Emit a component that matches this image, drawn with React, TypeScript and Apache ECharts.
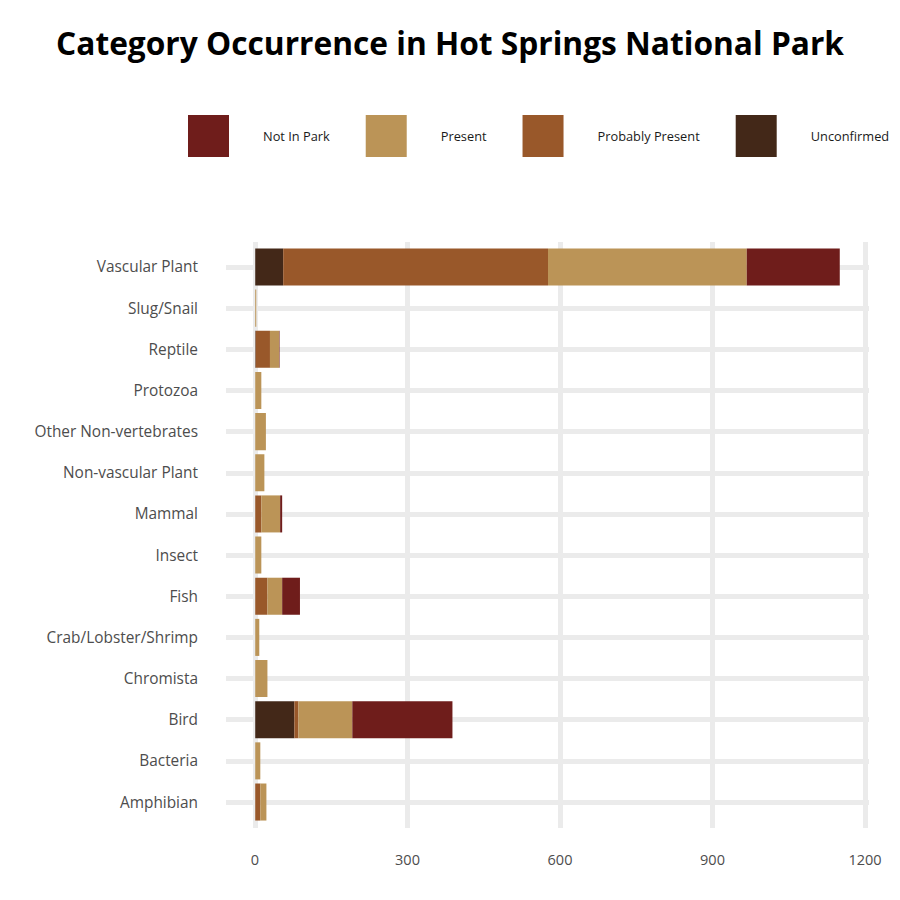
import React, { useEffect, useRef } from "react";
import * as echarts from "echarts";

const categories = [
  "Amphibian",
  "Bacteria",
  "Bird",
  "Chromista",
  "Crab/Lobster/Shrimp",
  "Fish",
  "Insect",
  "Mammal",
  "Non-vascular Plant",
  "Other Non-vertebrates",
  "Protozoa",
  "Reptile",
  "Slug/Snail",
  "Vascular Plant",
];

const unconfirmed = [0, 0, 77, 0, 0, 0, 0, 0, 0, 0, 0, 1, 0, 55];
const probablyPresent = [10, 0, 8, 0, 0, 24, 0, 12, 0, 0, 0, 28, 0, 521];
const present = [12, 10, 106, 24, 8, 29, 12, 37, 18, 21, 12, 18, 2, 391];
const notInPark = [0, 0, 197, 0, 0, 35, 0, 4, 0, 0, 0, 1, 0, 183];

const xTicks = [0, 300, 600, 900, 1200];
const legendOrder = ["Not In Park", "Present", "Probably Present", "Unconfirmed"];

const COLORS: Record<string, string> = {
  "Unconfirmed": "#432818",
  "Probably Present": "#99582a",
  "Present": "#bb9457",
  "Not In Park": "#6f1d1b",
};

const FONT = "'Open Sans', 'Noto Sans', sans-serif";

export default function App() {
  const ref = useRef<HTMLDivElement>(null);

  useEffect(() => {
    if (!ref.current) return;
    const chart = echarts.init(ref.current, undefined, { renderer: "svg" });

    const stackSeries = [
      ["Unconfirmed", unconfirmed],
      ["Probably Present", probablyPresent],
      ["Present", present],
      ["Not In Park", notInPark],
    ].map(([name, data]) => ({
      name: name as string,
      type: "bar",
      stack: "total",
      xAxisIndex: 0,
      yAxisIndex: 0,
      data: data as number[],
      barCategoryGap: "10%",
      itemStyle: { color: COLORS[name as string] },
      z: 3,
    }));

    const option: any = {
      animation: false,
      backgroundColor: "#ffffff",
      title: {
        text: "Category Occurrence in Hot Springs National Park",
        left: "center",
        top: 21,
        textStyle: {
          fontFamily: FONT,
          fontWeight: "bold",
          fontSize: 31.7,
          color: "#000000",
        },
      },
      legend: {
        data: legendOrder,
        left: 183,
        top: 110,
        itemWidth: 41,
        itemHeight: 42,
        itemGap: 36,
        icon: "rect",
        textStyle: {
          fontFamily: FONT,
          fontSize: 12.8,
          color: "#1a1a1a",
          padding: [0, 0, 0, 29],
        },
      },
      grid: [
        { left: 226, right: 31, top: 246.4, bottom: 77.4, containLabel: false },
        { left: 255, width: 610, top: 242, bottom: 72, containLabel: false },
      ],
      xAxis: [
        {
          type: "value",
          gridIndex: 0,
          min: -57.5,
          max: 1207.5,
          axisLabel: { show: false },
          axisLine: { show: false },
          axisTick: { show: false },
          splitLine: { show: false },
        },
        {
          type: "value",
          gridIndex: 1,
          min: xTicks[0],
          max: xTicks[xTicks.length - 1],
          interval: xTicks[1] - xTicks[0],
          axisLine: { show: false },
          axisTick: { show: false },
          axisLabel: {
            margin: 24,
            fontFamily: FONT,
            fontSize: 14.5,
            color: "#4d4d4d",
            formatter: (v: number) => String(v),
          },
          splitLine: { show: true, lineStyle: { color: "#ebebeb", width: 5 } },
        },
      ],
      yAxis: [
        {
          type: "category",
          gridIndex: 0,
          data: categories,
          axisLine: { show: false },
          axisTick: { show: false },
          splitLine: { show: false },
          axisLabel: {
            margin: 28,
            fontFamily: FONT,
            fontSize: 15.4,
            color: "#4d4d4d",
          },
        },
        {
          type: "value",
          gridIndex: 1,
          show: false,
          min: 0,
          max: 1,
        },
      ],
      series: [
        {
          type: "scatter",
          xAxisIndex: 0,
          yAxisIndex: 0,
          data: [],
          silent: true,
          z: 1,
          markLine: {
            silent: true,
            z: 1,
            symbol: "none",
            label: { show: false },
            lineStyle: { color: "#ebebeb", width: 5, type: "solid" },
            data: categories.map((c) => ({ yAxis: c })),
          },
        },
        ...stackSeries,
      ],
    };

    chart.setOption(option);
    return () => chart.dispose();
  }, []);

  return (
    <div
      ref={ref}
      style={{ position: "fixed", left: 0, top: 0, width: 900, height: 900 }}
    />
  );
}
